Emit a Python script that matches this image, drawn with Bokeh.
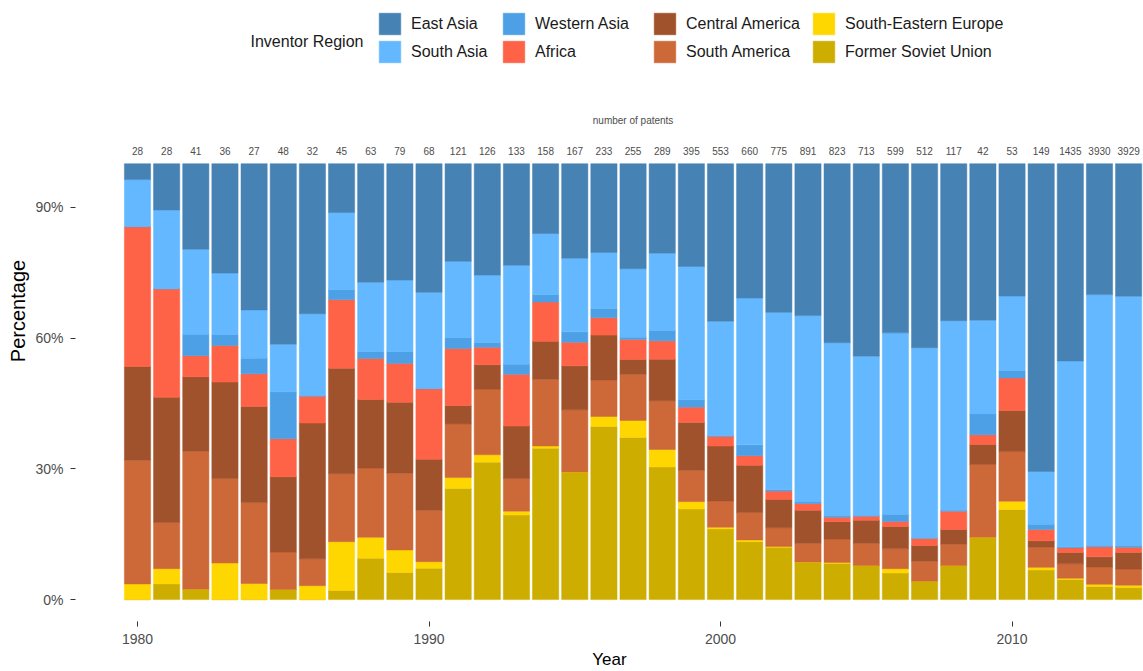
from bokeh.plotting import figure
from bokeh.models import (ColumnDataSource, Range1d, Legend, LegendItem, Label,
                          FixedTicker, NumeralTickFormatter)
from bokeh.core.properties import value
from bokeh.embed import file_html
from bokeh.resources import INLINE

FONT = "Liberation Sans"

years = list(range(1980, 2015))
patent_counts = [28, 28, 41, 36, 27, 48, 32, 45, 63, 79, 68, 121, 126, 133, 158, 167, 233, 255,
                 289, 395, 553, 660, 775, 891, 823, 713, 599, 512, 117, 42, 53, 149, 1435, 3930, 3929]

# shares in percent
east_asia = [3.65, 10.6, 19.6, 25.1, 33.6, 41.4, 34.4, 11.2, 27.2, 26.7, 29.5, 22.4, 25.6, 23.3, 16.0,
             21.7, 20.4, 24.1, 20.5, 23.6, 36.1, 30.8, 34.1, 34.8, 41.1, 44.1, 38.8, 42.2, 36.0, 35.9,
             30.4, 70.6, 45.2, 30.0, 30.4]
south_asia = [10.8, 18.1, 19.5, 14.1, 11.1, 10.9, 18.9, 17.7, 15.9, 16.4, 22.1, 17.5, 15.5, 22.7, 14.0,
              16.9, 12.9, 15.7, 17.7, 30.6, 26.2, 33.7, 40.7, 42.7, 39.8, 36.5, 41.6, 43.7, 43.5, 21.5,
              17.1, 12.1, 42.6, 57.6, 57.3]
western_asia = [0, 0, 4.9, 2.5, 3.6, 10.8, 0, 2.3, 1.6, 2.7, 0, 2.5, 1.1, 2.3, 1.7,
                2.4, 2.1, 0.5, 2.4, 1.7, 0.2, 2.5, 0.3, 0.4, 0.3, 0.2, 1.7, 0, 0.2, 4.8,
                1.7, 1.2, 0.2, 0.2, 0.3]
africa = [32.1, 24.9, 4.8, 8.4, 7.5, 8.7, 6.2, 15.7, 9.4, 8.9, 16.2, 13.1, 4.0, 11.9, 9.0,
          5.4, 4.0, 4.6, 4.2, 3.5, 2.2, 2.2, 1.9, 1.5, 1.0, 0.9, 1.1, 1.7, 4.2, 2.2,
          7.5, 2.6, 1.1, 2.3, 1.2]
central_america = [21.5, 28.7, 17.1, 22.1, 22.1, 17.3, 31.1, 24.2, 15.7, 16.3, 11.7, 4.2, 5.6, 12.0, 8.7,
                   10.1, 10.3, 3.4, 9.5, 11.0, 12.6, 10.8, 6.5, 7.6, 4.0, 5.3, 5.1, 3.6, 3.4, 4.6,
                   9.4, 1.5, 2.6, 2.3, 3.8]
south_america = [28.4, 10.6, 31.6, 19.4, 18.6, 8.6, 6.2, 15.6, 15.9, 17.6, 11.8, 12.3, 15.1, 7.5, 15.3,
                 14.3, 8.4, 10.6, 11.2, 7.2, 6.0, 6.3, 4.3, 4.3, 5.4, 5.1, 4.6, 4.6, 4.9, 16.7,
                 11.4, 4.6, 3.3, 4.0, 3.7]
south_eastern_europe = [3.6, 3.5, 0, 8.4, 3.7, 0, 3.2, 11.2, 4.8, 5.2, 1.5, 2.5, 1.7, 0.9, 0.5,
                        0, 2.3, 3.9, 4.0, 1.7, 0.4, 0.4, 0.2, 0, 0.2, 0, 1.0, 0, 0, 0,
                        1.9, 0.6, 0.3, 0.5, 0.5]
former_soviet_union = [0, 3.6, 2.4, 0, 0, 2.3, 0, 2.1, 9.5, 6.2, 7.2, 25.5, 31.6, 19.4, 34.7,
                       29.3, 39.8, 37.2, 30.4, 20.8, 16.2, 13.3, 12.0, 8.6, 8.3, 7.8, 6.1, 4.2, 7.8, 14.3,
                       20.7, 6.8, 4.6, 3.0, 2.8]

regions = ["East Asia", "South Asia", "Western Asia", "Africa",
           "Central America", "South America", "South-Eastern Europe", "Former Soviet Union"]
series = [east_asia, south_asia, western_asia, africa,
          central_america, south_america, south_eastern_europe, former_soviet_union]
colors = ["#4682B4", "#63B8FF", "#4DA0E6", "#FF6347",
          "#A0522D", "#CD6839", "#FFD700", "#CDAD00"]

totals = [sum(vals) for vals in zip(*series)]
data = {"year": years, "count": [str(c) for c in patent_counts]}
for name, s in zip(regions, series):
    data[name] = [v / t for v, t in zip(s, totals)]
src = ColumnDataSource(data)

W, H = 1143, 671
BL, BB = 75, 47
frame_h = H - BB
p = figure(width=W, height=H, output_backend="svg", toolbar_location=None,
           x_range=Range1d(1977.873, 2014.51), y_range=Range1d(-0.0502, 1.3744),
           min_border_left=BL, min_border_right=0, min_border_top=0, min_border_bottom=BB,
           background_fill_color="white", border_fill_color="white")
p.outline_line_color = None
p.grid.visible = False

# stack: bottom first
order = list(range(len(regions)))[::-1]
rends = p.vbar_stack([regions[i] for i in order], x="year", width=0.9, source=src,
                     fill_color=[colors[i] for i in order], line_color=[colors[i] for i in order],
                     line_width=0.5)
rmap = {regions[i]: r for i, r in zip(order, rends)}

# patent counts above bars
p.text(x="year", y=1.03, text="count", source=src, text_font=value(FONT),
       text_font_size="10px", text_color="#4D4D4D", text_align="center", text_baseline="middle")
p.add_layout(Label(x=sum(years) / len(years), y=1.10, text="number of patents", text_font=FONT,
                   text_font_size="10px", text_color="#4D4D4D", text_align="center",
                   text_baseline="middle"))

# axes
for ax in (p.xaxis[0], p.yaxis[0]):
    ax.axis_line_color = None
    ax.major_tick_line_color = "#333333"
    ax.major_tick_out = 5
    ax.major_tick_in = 0
    ax.minor_tick_line_color = None
    ax.major_label_text_font = FONT
    ax.major_label_text_font_size = "14px"
    ax.major_label_text_color = "#4D4D4D"
    ax.axis_label_text_font = FONT
    ax.axis_label_text_font_style = "normal"
    ax.axis_label_text_color = "black"
p.xaxis.ticker = FixedTicker(ticks=[1980, 1990, 2000, 2010])
p.xaxis.axis_label = "Year"
p.xaxis.axis_label_text_font_size = "17px"
p.xaxis.major_label_standoff = 7
p.xaxis.axis_label_standoff = 3
p.yaxis.ticker = FixedTicker(ticks=[0, 0.3, 0.6, 0.9])
p.yaxis.formatter = NumeralTickFormatter(format="0%")
p.yaxis.axis_label = "Percentage"
p.yaxis.axis_label_text_font_size = "20px"
p.yaxis.major_label_standoff = 7
p.yaxis.axis_label_standoff = 3

# legend: four columns of two entries, title on the left
col_x = [301, 425, 576, 735]
for ci in range(4):
    items = [LegendItem(label=regions[2 * ci + k], renderers=[rmap[regions[2 * ci + k]]]) for k in range(2)]
    lg = Legend(items=items, location=(col_x[ci], frame_h - 68), orientation="vertical",
                glyph_width=27, glyph_height=27, label_text_font=FONT, label_text_font_size="16px",
                label_text_color="#1a1a1a", label_standoff=8, spacing=1, padding=0, margin=0,
                border_line_color=None, background_fill_alpha=0)
    p.add_layout(lg, "center")
p.add_layout(Label(x=175, y=frame_h - 44, x_units="screen", y_units="screen", text="Inventor Region",
                   text_font=FONT, text_font_size="16px", text_color="#1a1a1a",
                   text_baseline="middle", text_align="left"))

open("out.html", "w").write(file_html(p, INLINE))
